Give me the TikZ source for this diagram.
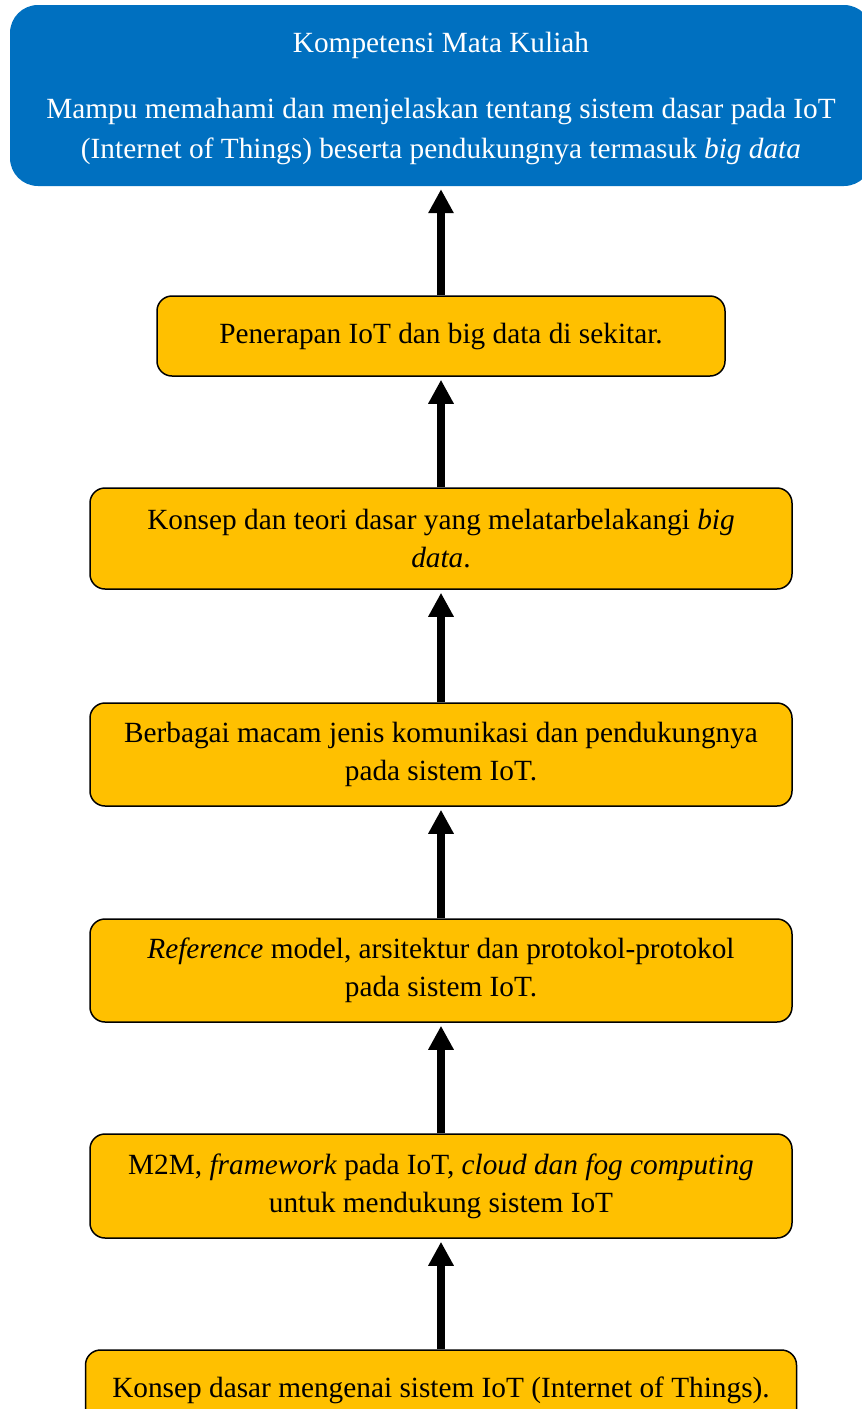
\documentclass[tikz,border=0pt]{standalone}
\usepackage{fontspec}
\setmainfont{Liberation Serif}
\usetikzlibrary{arrows.meta}
\definecolor{goalblue}{HTML}{0070C0}
\definecolor{topicamber}{HTML}{FFC000}

\begin{document}
\begin{tikzpicture}[x=1pt,y=-1pt,
	goal node/.style={rectangle,rounded corners=28pt,fill=goalblue,text=white,align=center,minimum width=862pt,minimum height=181pt,inner sep=0pt,font=\fontsize{29.3}{40}\selectfont},
	topic node/.style={rectangle,rounded corners=15pt,draw=black,line width=1.5pt,fill=topicamber,align=center,minimum width=702pt,inner sep=0pt,font=\fontsize{29.3}{38}\selectfont},
	up arrow/.style={-{Triangle[width=24pt,length=24pt]},line width=8pt,shorten >=3pt}]
	
	\useasboundingbox (0,0) rectangle (862,1409);
	\clip (0,0) rectangle (862,1409);
	
	\node[goal node] (G) at (441,95.5) {\rule{0pt}{27pt}Kompetensi Mata Kuliah\\[26pt]Mampu memahami dan menjelaskan tentang sistem dasar pada IoT\\(Internet of Things) beserta pendukungnya termasuk \textit{big data}};
	\node[topic node,minimum width=568pt,minimum height=80pt] (T1) at (441,336) {Penerapan IoT dan big data di sekitar.};
	\node[topic node,minimum height=101pt] (T2) at (441,538.5) {Konsep dan teori dasar yang melatarbelakangi \textit{big}\\\textit{data}.};
	\node[topic node,minimum height=103pt] (T3) at (441,754.5) {Berbagai macam jenis komunikasi dan pendukungnya\\pada sistem IoT.};
	\node[topic node,minimum height=103pt] (T4) at (441,970.5) {\textit{Reference} model, arsitektur dan protokol-protokol\\pada sistem IoT.};
	\node[topic node,minimum height=104pt] (T5) at (441,1186) {M2M, \textit{framework} pada IoT, \textit{cloud dan fog computing}\\untuk mendukung sistem IoT};
	\node[topic node,minimum width=711pt,minimum height=80pt] (T6) at (441,1390) {Konsep dasar mengenai sistem IoT (Internet of Things).};
	
	\draw[up arrow] (T6) -- (T5);
	\draw[up arrow] (T5) -- (T4);
	\draw[up arrow] (T4) -- (T3);
	\draw[up arrow] (T3) -- (T2);
	\draw[up arrow] (T2) -- (T1);
	\draw[up arrow] (T1) -- (G);
\end{tikzpicture}
\end{document}
